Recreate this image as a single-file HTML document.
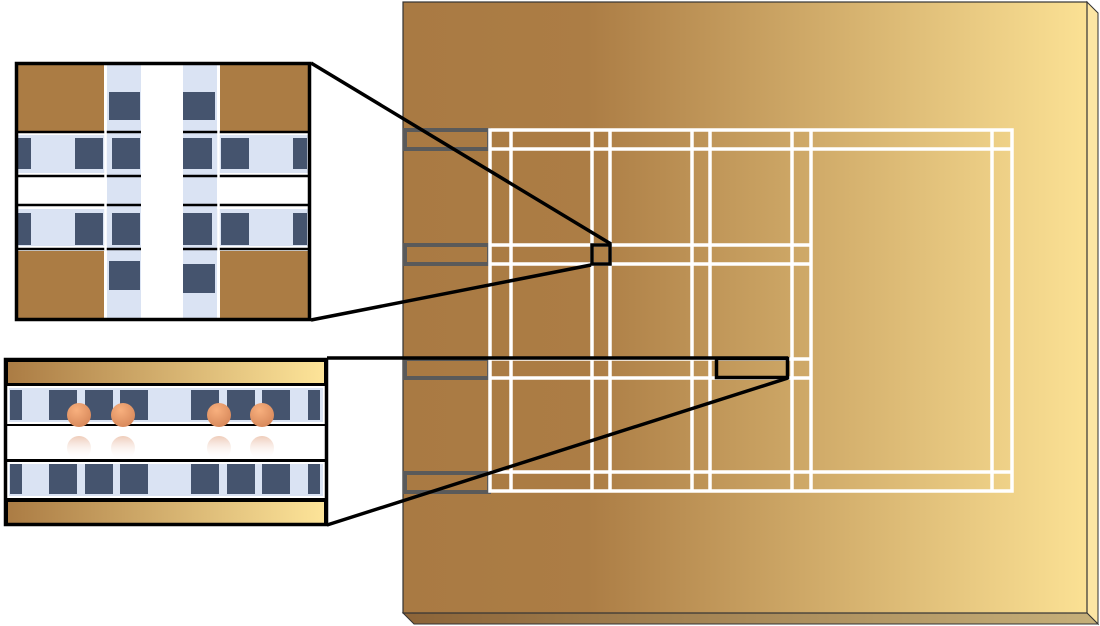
<!DOCTYPE html>
<html><head><meta charset="utf-8"><style>html,body{margin:0;padding:0;background:#fff}svg{display:block}</style></head>
<body>
<svg width="1100" height="626" viewBox="0 0 1100 626" xmlns="http://www.w3.org/2000/svg">
<defs>
<linearGradient id="g" x1="0" x2="1" y1="0" y2="0">
<stop offset="0" stop-color="#a97a43"/><stop offset="0.27" stop-color="#ac7d45"/><stop offset="1" stop-color="#fbe194"/>
</linearGradient>
<linearGradient id="gb" x1="0" x2="1"><stop offset="0" stop-color="#8c6438"/><stop offset="1" stop-color="#c6b07a"/></linearGradient>
<linearGradient id="g2" x1="0" x2="1"><stop offset="0" stop-color="#ab7c44"/><stop offset="1" stop-color="#fde499"/></linearGradient>
<radialGradient id="ball" cx="0.4" cy="0.3" r="0.7"><stop offset="0" stop-color="#f8b07e"/><stop offset="1" stop-color="#d98a5c"/></radialGradient>
<linearGradient id="refl" x1="0" x2="0" y1="0" y2="1"><stop offset="0" stop-color="#e3a98a" stop-opacity="0.6"/><stop offset="1" stop-color="#fff" stop-opacity="0"/></linearGradient>
</defs>
<!-- board -->
<polygon points="1087,2 1098,13 1098,624 1087,613" fill="#fde6a4" stroke="#333" stroke-width="1"/>
<polygon points="403,613 1087,613 1098,624 414,624" fill="url(#gb)" stroke="#333" stroke-width="1"/>
<rect x="403" y="2" width="684" height="611" fill="url(#g)" stroke="#333" stroke-width="1.2"/>
<!-- gray rects -->
<g fill="none" stroke="#5a5a5a" stroke-width="4">
<rect x="405" y="130" width="84" height="19"/>
<rect x="405" y="245" width="84" height="19"/>
<rect x="405" y="359" width="84" height="19"/>
<rect x="405" y="473" width="84" height="19"/>
</g>
<!-- white grid -->
<g stroke="#fff" stroke-width="3.5" fill="none">
<rect x="490" y="130" width="522" height="361"/>
<line x1="490" y1="149" x2="1012" y2="149"/>
<line x1="490" y1="472" x2="1012" y2="472"/>
<line x1="490" y1="245" x2="811" y2="245"/>
<line x1="490" y1="264" x2="811" y2="264"/>
<line x1="490" y1="359" x2="811" y2="359"/>
<line x1="490" y1="378" x2="811" y2="378"/>
<line x1="511" y1="130" x2="511" y2="491"/>
<line x1="592" y1="130" x2="592" y2="491"/>
<line x1="610" y1="130" x2="610" y2="491"/>
<line x1="692" y1="130" x2="692" y2="491"/>
<line x1="710" y1="130" x2="710" y2="491"/>
<line x1="792" y1="130" x2="792" y2="491"/>
<line x1="811" y1="130" x2="811" y2="491"/>
<line x1="992" y1="130" x2="992" y2="491"/>
</g>
<!-- zoom box 1 -->
<rect x="18" y="65" width="290" height="253" fill="#fff"/>
<g fill="#ab7c44">
<rect x="18" y="65" width="86" height="66"/><rect x="220" y="65" width="88" height="66"/>
<rect x="18" y="251" width="86" height="67"/><rect x="220" y="251" width="88" height="67"/>
</g>
<g fill="#dae3f3">
<rect x="107" y="65" width="34" height="253"/><rect x="183" y="65" width="34" height="253"/>
<rect x="18" y="135" width="290" height="38"/><rect x="18" y="209" width="290" height="37"/>
</g>
<g fill="#45546e">
<rect x="109" y="92" width="31" height="28"/><rect x="183" y="92" width="32" height="28"/>
<rect x="109" y="261" width="31" height="29"/><rect x="183" y="264" width="32" height="29"/>
<rect x="18" y="138" width="13" height="31"/><rect x="75" y="138" width="28" height="31"/><rect x="112" y="138" width="28" height="31"/><rect x="183" y="138" width="29" height="31"/><rect x="221" y="138" width="28" height="31"/><rect x="293" y="138" width="14" height="31"/>
<rect x="18" y="213" width="13" height="32"/><rect x="75" y="213" width="28" height="32"/><rect x="112" y="213" width="28" height="32"/><rect x="183" y="213" width="29" height="32"/><rect x="221" y="213" width="28" height="32"/><rect x="293" y="213" width="14" height="32"/>
</g>
<g stroke="#000" stroke-width="2.5">
<line x1="18" y1="132" x2="308" y2="132"/><line x1="18" y1="176" x2="308" y2="176"/>
<line x1="18" y1="205" x2="308" y2="205"/><line x1="18" y1="249" x2="308" y2="249"/>
</g>
<rect x="141" y="65" width="42" height="253" fill="#fff"/>
<g stroke="#fff" stroke-width="2.5"><line x1="105.5" y1="65" x2="105.5" y2="318"/><line x1="218.5" y1="65" x2="218.5" y2="318"/></g>
<rect x="16.5" y="63.5" width="293" height="256" fill="none" stroke="#000" stroke-width="3.5"/>
<!-- zoom box 2 -->
<rect x="6" y="360" width="320" height="164" fill="#000"/>
<rect x="8" y="362" width="316" height="21" fill="url(#g2)"/>
<rect x="8" y="502" width="316" height="21" fill="url(#g2)"/>
<rect x="7" y="386" width="318" height="38" fill="#fff"/>
<rect x="9" y="388" width="314" height="34" fill="#dae3f3"/>
<rect x="7" y="426" width="318" height="33" fill="#fff"/>
<rect x="7" y="462" width="318" height="36" fill="#fff"/>
<rect x="9" y="464" width="314" height="32" fill="#dae3f3"/>
<g fill="#45546e">
<rect x="10" y="390" width="12" height="30"/><rect x="49" y="390" width="28" height="30"/><rect x="85" y="390" width="28" height="30"/><rect x="120" y="390" width="28" height="30"/><rect x="191" y="390" width="28" height="30"/><rect x="227" y="390" width="28" height="30"/><rect x="262" y="390" width="28" height="30"/><rect x="308" y="390" width="12" height="30"/>
<rect x="10" y="464" width="12" height="30"/><rect x="49" y="464" width="28" height="30"/><rect x="85" y="464" width="28" height="30"/><rect x="120" y="464" width="28" height="30"/><rect x="191" y="464" width="28" height="30"/><rect x="227" y="464" width="28" height="30"/><rect x="262" y="464" width="28" height="30"/><rect x="308" y="464" width="12" height="30"/>
</g>
<g fill="url(#ball)"><circle cx="79" cy="415" r="12"/><circle cx="123" cy="415" r="12"/><circle cx="219" cy="415" r="12"/><circle cx="262" cy="415" r="12"/></g>
<g fill="url(#refl)"><circle cx="79" cy="448" r="12"/><circle cx="123" cy="448" r="12"/><circle cx="219" cy="448" r="12"/><circle cx="262" cy="448" r="12"/></g>
<rect x="5.5" y="359.5" width="321" height="165" fill="none" stroke="#000" stroke-width="3.5"/>
<!-- connectors -->
<g stroke="#000" stroke-width="3.5" fill="none">
<rect x="592" y="245" width="18" height="19"/>
<line x1="311" y1="63" x2="611" y2="244"/>
<line x1="311" y1="320" x2="591" y2="265"/>
<line x1="327" y1="358" x2="788" y2="358"/>
<rect x="716.5" y="358.5" width="71" height="19"/>
<line x1="327" y1="525" x2="788" y2="378"/>
</g>
</svg>
</body></html>
